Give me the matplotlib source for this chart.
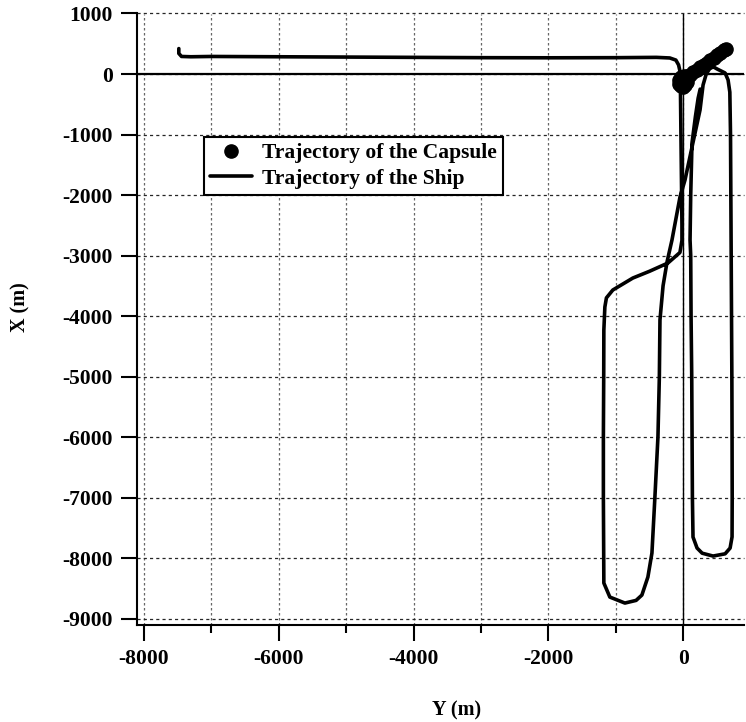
import matplotlib
matplotlib.use("Agg")
import matplotlib.pyplot as plt
from matplotlib.ticker import MultipleLocator

plt.rcParams['font.family'] = ['Liberation Serif', 'DejaVu Serif']
plt.rcParams['font.weight'] = 'bold'
plt.rcParams['axes.unicode_minus'] = False

# Ship trajectory (Y east/west, X north/south), metres
ship_y = [-7480, -7480, -7440, -7300, -7000, -6000, -5000, -4000, -3000, -2000,
          -1000, -400, -200, -110, -70, -50, -45, -35, -25, -20, -20, -50,
          -228, -500, -748, -1045, -1140, -1163, -1178, -1180, -1185, -1185,
          -1180, -1178, -1089, -866, -700, -614, -525, -465, -421, -376,
          -355, -346, -300, -240, -168, -49, 25, 150, 248, 293, 340, 397,
          450, 501, 620, 664, 690, 700, 705, 710, 715, 720, 723, 725, 723,
          694, 620, 441, 280, 204, 144, 135, 130, 125, 115, 110, 100, 110,
          129, 180, 220, 250]
ship_x = [420, 340, 290, 285, 290, 285, 280, 275, 270, 268,
          270, 275, 265, 230, 150, 50, 0, -1000, -2000, -2500, -2750, -2950,
          -3124, -3260, -3372, -3570, -3700, -3851, -4231, -5000, -6000, -7000,
          -8000, -8413, -8645, -8744, -8700, -8612, -8314, -7917, -6992, -6000,
          -5000, -4066, -3500, -3100, -2744, -2033, -1752, -1100, -595, -182, 0, 99,
          115, 83, 17, -99, -300, -1000, -2000, -3000, -4000, -5000, -6000, -7000, -7650,
          -7835, -7930, -7967, -7920, -7835, -7653, -7000, -6000, -5000, -4000, -3000, -2744, -2000,
          -1140, -700, -400, -250]

# Capsule trajectory, metres
capsule_y = [-70, -40, -10, 20, 50, -60, -30, 0, 30, -40, 10, 60, 100, 150, 200,
             250, 300, 350, 400, 450, 500, 550, 600, 630]
capsule_x = [-160, -200, -210, -180, -130, -100, -130, -150, -90, -50, -40, -40,
             -10, 30, 70, 110, 150, 190, 230, 270, 310, 350, 390, 410]

fig = plt.figure(figsize=(7.46, 7.22), dpi=100)
ax = fig.add_axes([137 / 746, 1 - 624.6 / 722, (744 - 137) / 746, (624.6 - 13.5) / 722])

ax.set_xlim(-8100, 900)
ax.set_ylim(-9100, 1000)

# grid at every 1000 m
for v in range(-8000, 1000, 1000):
    ax.axvline(v, color='0.4', lw=0.9, ls=(0, (2, 2)), zorder=0)
for v in range(-9000, 1001, 1000):
    ax.axhline(v, color='0.15', lw=0.9, ls=(0, (2.5, 2.5)), zorder=0, clip_on=False)

# zero lines
ax.axvline(0, color='black', lw=1.0, zorder=1)
ax.axhline(0, color='black', lw=1.6, zorder=1)

ax.plot(ship_y, ship_x, color='black', lw=2.6, solid_capstyle='round',
        solid_joinstyle='round', zorder=3, label='Trajectory of the Ship')
ax.plot(capsule_y, capsule_x, ls='none', marker='o', ms=9.5, color='black',
        zorder=4, label='Trajectory of the Capsule')

ax.xaxis.set_major_locator(MultipleLocator(2000))
ax.xaxis.set_minor_locator(MultipleLocator(1000))
ax.yaxis.set_major_locator(MultipleLocator(1000))
ax.tick_params(axis='both', which='major', direction='out', length=11.5, width=1.5,
               labelsize=15.5, pad=6)
ax.tick_params(axis='x', which='minor', direction='out', length=6, width=1.5)

for s in ('top', 'right'):
    ax.spines[s].set_visible(False)
for s in ('left', 'bottom'):
    ax.spines[s].set_linewidth(1.5)

for lab in ax.get_xticklabels() + ax.get_yticklabels():
    lab.set_fontweight('bold')

fig.text(457 / 746, 1 - 710 / 722, 'Y (m)', ha='center', va='center',
         fontsize=14.5, fontweight='bold')
fig.text(20 / 746, 1 - 307 / 722, 'X (m)', ha='center', va='center',
         rotation=90, fontsize=14.5, fontweight='bold')

handles, labels = ax.get_legend_handles_labels()
leg = ax.legend(handles[::-1], labels[::-1], loc='upper left',
                bbox_to_anchor=(0.110, 0.798), borderaxespad=0, fancybox=False,
                framealpha=1, edgecolor='black', prop={'size': 15.5, 'weight': 'bold'},
                handlelength=1.95, handletextpad=0.45, labelspacing=0.25,
                borderpad=0.3, numpoints=1)
leg.get_frame().set_linewidth(1.5)

fig.savefig('out.png', dpi=100)
